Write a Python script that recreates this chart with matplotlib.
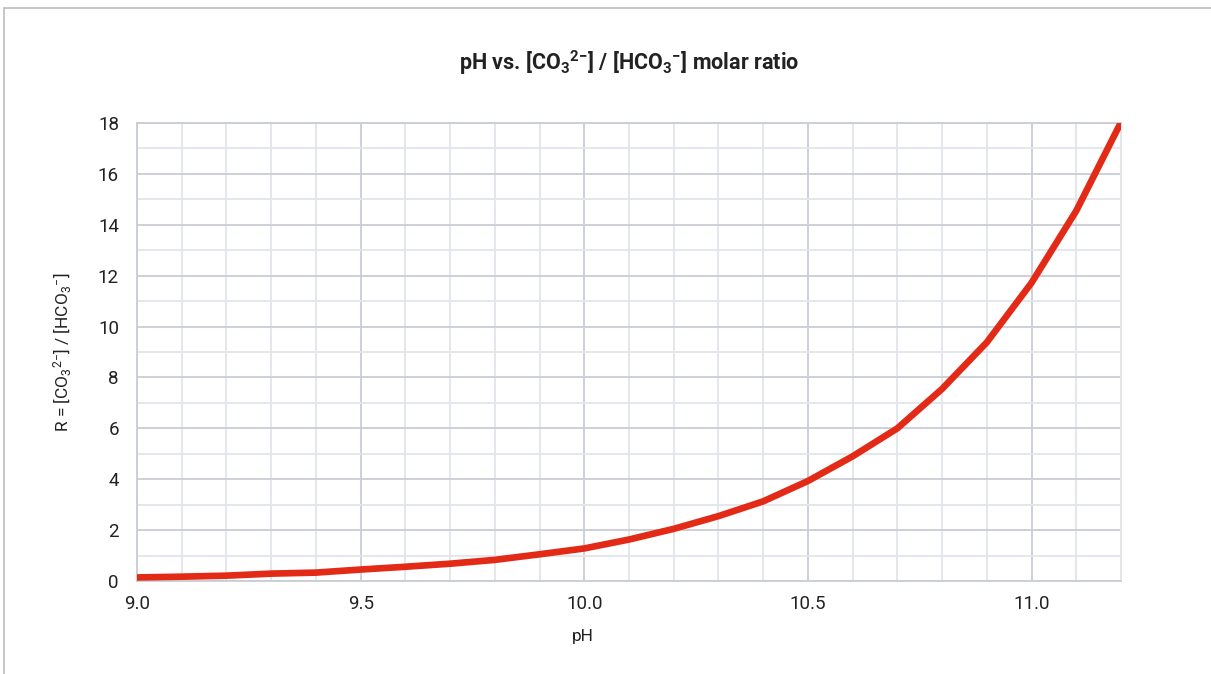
import matplotlib
matplotlib.use("Agg")
import matplotlib.pyplot as plt
from matplotlib.ticker import MultipleLocator, FormatStrFormatter
from matplotlib.patches import Rectangle

plt.rcParams['font.family'] = ['Roboto', 'DejaVu Sans']
plt.rcParams['mathtext.fontset'] = 'custom'
plt.rcParams['mathtext.rm'] = 'Roboto'
plt.rcParams['mathtext.bf'] = 'Roboto:bold'
plt.rcParams['mathtext.default'] = 'regular'

# data
ph = [9.0, 9.1, 9.2, 9.3, 9.4, 9.5, 9.6, 9.7, 9.8, 9.9, 10.0, 10.1,
      10.2, 10.3, 10.4, 10.5, 10.6, 10.7, 10.8, 10.9, 11.0, 11.1, 11.2]
ratio = [0.14, 0.17, 0.21, 0.29, 0.33, 0.45, 0.56, 0.68, 0.83, 1.05, 1.28, 1.63,
         2.05, 2.55, 3.13, 3.93, 4.9, 6.0, 7.55, 9.38, 11.72, 14.55, 18.03]

major_c = '#c9ced4'
minor_c = '#e2e5e9'
text_c = '#222222'
MINUS = '{\u2212}'

fig = plt.figure(figsize=(12.11, 6.74), dpi=100)
fig.patches.append(Rectangle((4 / 1211, -0.1), 1.2, (674 - 8) / 674 + 0.1,
                             transform=fig.transFigure, fill=False,
                             edgecolor='#bdbdbd', linewidth=1.2))

ax = fig.add_axes([137 / 1211, 1 - 581 / 674, (1121 - 137) / 1211, (581 - 123) / 674])
ax.plot(ph, ratio, color='#e32a16', linewidth=4.8, solid_capstyle='round', zorder=3)

ax.set_xlim(9.0, 11.2)
ax.set_ylim(0, 18)
ax.xaxis.set_major_locator(MultipleLocator(0.5))
ax.xaxis.set_minor_locator(MultipleLocator(0.1))
ax.yaxis.set_major_locator(MultipleLocator(2))
ax.yaxis.set_minor_locator(MultipleLocator(1))
ax.xaxis.set_major_formatter(FormatStrFormatter('%.1f'))
ax.grid(which='major', color=major_c, linewidth=1.3)
ax.grid(which='minor', color=minor_c, linewidth=1.3)
ax.set_axisbelow(True)
ax.tick_params(which='both', length=0, labelsize=13.5, labelcolor=text_c)
ax.tick_params(axis='x', pad=10)
ax.tick_params(axis='y', pad=13)

for side in ['left', 'bottom', 'top']:
    ax.spines[side].set_color(major_c)
    ax.spines[side].set_linewidth(1.3)
ax.spines['right'].set_color(minor_c)
ax.spines['right'].set_linewidth(1.3)

ax.set_xlabel('pH', fontsize=12.5, color=text_c)
ax.xaxis.set_label_coords((583 - 137) / 984, -0.105)
ax.set_ylabel('R = [CO$_3$$^{2' + MINUS + '}$] / [HCO$_3$$^{' + MINUS + '}$]',
              fontsize=12.5, color=text_c, labelpad=18)
ax.set_title('pH vs. [CO$\\mathbf{_3}$$\\mathbf{^{2' + MINUS + '}}$] / '
             '[HCO$\\mathbf{_3}$$\\mathbf{^{' + MINUS + '}}$] molar ratio',
             fontsize=15.5, fontweight='bold', color=text_c, pad=38)

fig.savefig('out.png', dpi=100)
